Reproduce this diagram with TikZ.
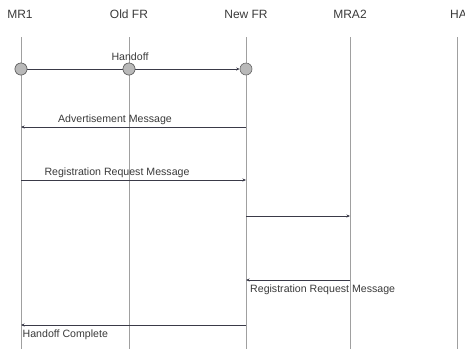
\documentclass[tikz,border=0pt]{standalone}
\usepackage{fontspec}
\setmainfont{Liberation Sans}
\usetikzlibrary{arrows.meta}
\definecolor{txt}{HTML}{3A3A3A}
\definecolor{life}{HTML}{A0A0A0}
\definecolor{msg}{HTML}{3A3A48}
\begin{document}
\begin{tikzpicture}[x=1pt,y=-1pt,
  head/.style={font=\fontsize{12}{14}\selectfont, text=txt, inner sep=0pt, anchor=center},
  lifeline/.style={draw=life, line width=0.8pt},
  msgline/.style={draw=msg, line width=1pt, -{Stealth[length=3.5pt,width=3pt]}},
  lbl/.style={font=\fontsize{10.6}{12}\selectfont, text=txt, inner sep=0pt},
  dot/.style={circle, draw=gray!80!black, fill=gray!55, line width=0.6pt, minimum size=12pt, inner sep=0pt}]
\useasboundingbox (0,0) rectangle (465,349);
% headers
\node[head] (hmr1) at (20,14) {MR1};
\node[head] (hold) at (129,14) {Old FR};
\node[head] (hnew) at (246,14) {New FR};
\node[head] (hmra) at (350,14) {MRA2};
\node[head, anchor=west] (hha) at (450,14) {HA};
% lifelines
\coordinate (t1) at (21,37);   \coordinate (b1) at (21,349);
\coordinate (t2) at (129,37);  \coordinate (b2) at (129,349);
\coordinate (t3) at (246,37);  \coordinate (b3) at (246,349);
\coordinate (t4) at (350,37);  \coordinate (b4) at (350,349);
\coordinate (t5) at (457.5,37);\coordinate (b5) at (457.5,349);
\draw[lifeline] (t1) -- (b1);
\draw[lifeline] (t2) -- (b2);
\draw[lifeline] (t3) -- (b3);
\draw[lifeline] (t4) -- (b4);
\draw[lifeline] (t5) -- (b5);
% handoff
\node[dot] (d1) at (21,69) {};
\node[dot] (d2) at (129,69) {};
\node[dot] (d3) at (246,69) {};
\draw[msgline] (d1.center) -- (d3.west);
\node[dot] at (d1) {};
\node[dot] at (d2) {};
\node[lbl] (lhand) at (130,57) {Handoff};
% messages
\coordinate (a1) at (246,127); \coordinate (a2) at (21,127);
\draw[msgline] (a1) -- (a2);
\node[lbl] (ladv) at (115,120) {Advertisement Message};
\coordinate (r1) at (21,180); \coordinate (r2) at (246,180);
\draw[msgline] (r1) -- (r2);
\node[lbl] (lreg) at (117,172.5) {Registration Request Message};
\coordinate (m1) at (246,216); \coordinate (m2) at (350,216);
\draw[msgline] (m1) -- (m2);
\coordinate (n1) at (350,280); \coordinate (n2) at (246,280);
\draw[msgline] (n1) -- (n2);
\node[lbl, anchor=west] (lreg2) at (250,289.5) {Registration Request Message};
\coordinate (h1) at (246,325); \coordinate (h2) at (21,325);
\draw[msgline] (h1) -- (h2);
\node[lbl, anchor=west] (lhc) at (22.5,335) {Handoff Complete};
\end{tikzpicture}
\end{document}
